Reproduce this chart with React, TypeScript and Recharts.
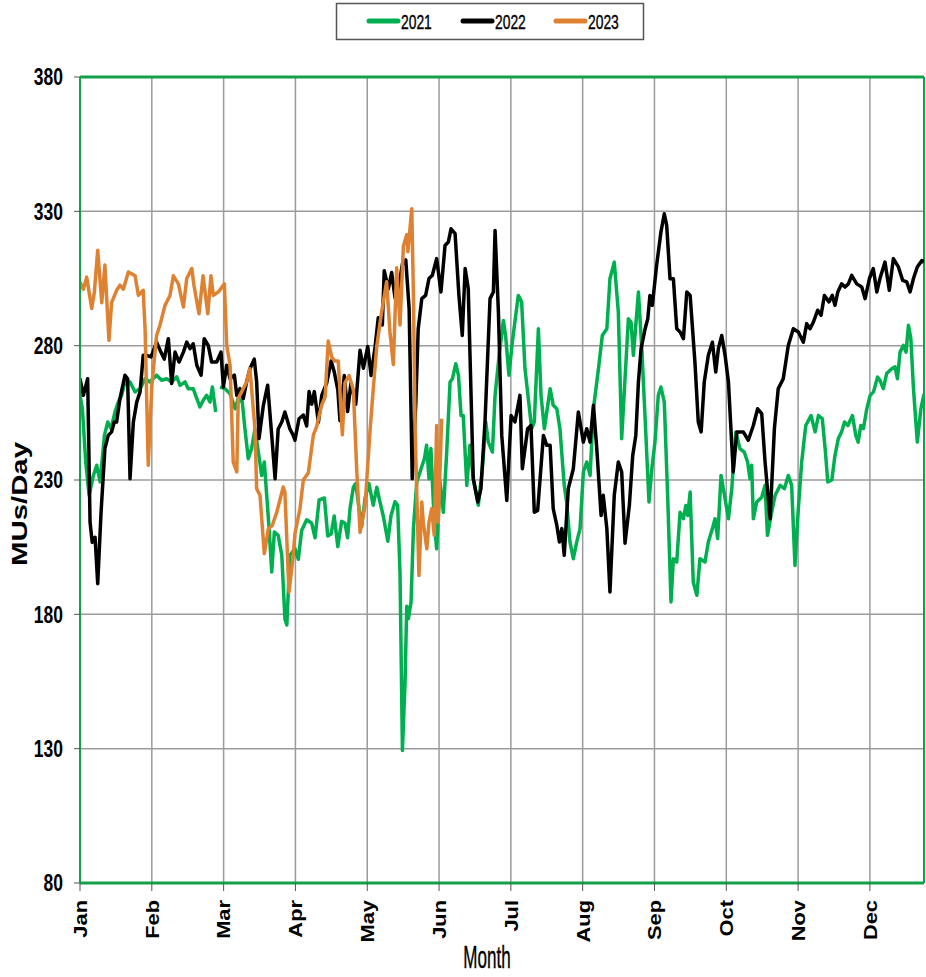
import React from 'react';
import { LineChart, Line, XAxis, YAxis, CartesianGrid, ReferenceLine, Label } from 'recharts';

const MONTHS = ['Jan', 'Feb', 'Mar', 'Apr', 'May', 'Jun', 'Jul', 'Aug', 'Sep', 'Oct', 'Nov', 'Dec'];
const MONTH_TICKS = [0, 30, 60, 90, 120, 150, 180, 210, 240, 270, 300, 330];
const Y_TICKS = [80, 130, 180, 230, 280, 330, 380];
const X_MAX = 352.6;
const SERIES_NAMES = ['2021', '2022', '2023'];
const COLORS = ['#00B050', '#000000', '#DE8232'];
const BORDER_GREEN = '#12A048';

const y2021: [number, number | null][] = [[0,261.5],[1.0,256.5],[2.4,236.7],[3.8,224.3],[5.6,231.7],[7.0,235.5],[8.4,229.3],[10.2,246.6],[11.6,251.6],[13.0,249.1],[14.6,255.3],[16.0,259],[17.4,261.5],[18.8,266.5],[20.9,266.5],[23.0,262.8],[25.1,264],[27.2,267.7],[29.2,266.5],[32.0,269],[34.1,267.1],[36.2,267.7],[38.3,266.5],[40.4,268.4],[41.8,265.2],[43.9,266.5],[45.2,264],[47.3,264],[48.8,260.3],[50.1,257.2],[51.5,259.7],[52.9,261.5],[54.3,259],[55.3,264.6],[56.7,255.3],[57.4,null],[58.5,264.6],[60.6,264],[62.7,262.1],[64.8,256.5],[66.1,260.3],[67.8,259],[68.9,249.1],[70.3,237.9],[71.7,241.7],[73.1,249.1],[74.5,240.4],[75.9,231.7],[77.0,236.7],[78.0,224.3],[79.0,211.9],[80.1,195.8],[81.2,210.6],[82.8,209.4],[84.3,202],[85.6,178.4],[86.4,176],[87.7,202],[89.8,204.5],[91.2,200.5],[92.6,211.2],[94.7,215.2],[96.8,213.9],[98.2,208.5],[99.9,222.6],[102.1,223.3],[103.5,209.2],[104.9,209.9],[106.2,216.6],[107.7,205.2],[109.3,214.6],[110.7,213.9],[111.8,208.5],[112.8,219.3],[114.2,227.3],[115.2,228.7],[116.6,219.3],[117.7,212.6],[119.1,223.3],[120.7,228.7],[122.5,220.6],[124.0,227.3],[125.3,221.9],[126.7,216.6],[128.6,207.2],[129.9,216.6],[131.6,221.9],[132.7,220.6],[133.7,195.1],[134.7,129.3],[135.8,154.8],[136.5,183],[137.2,178.4],[138.3,184.6],[139.3,211.9],[140.7,229.3],[142.5,234.2],[143.9,238],[144.8,242.9],[145.8,230.5],[146.6,241.7],[148.0,214.3],[149.0,204.4],[150.4,229.3],[151.8,218],[153.2,240.4],[154.6,266.5],[155.6,267.7],[157.0,273.3],[158.1,269],[159.2,254],[160.1,254],[161.6,228],[162.9,242.9],[164.3,230.5],[166.4,220.6],[168.1,234.2],[169.5,251.6],[170.6,244.1],[172.3,240.4],[173.4,261.5],[175.1,276.4],[176.9,289.4],[177.8,283.8],[179.2,269],[180.6,281.3],[183.1,298.7],[184.5,296.3],[185.9,271.4],[187.3,260.3],[188.7,249.1],[189.8,251.6],[191.5,286.3],[192.6,261.5],[194.0,249.1],[196.4,264],[197.7,257.8],[199.2,256.5],[200.5,249.1],[202.3,228],[203.3,221.8],[204.7,206.9],[206.1,200.7],[207.5,206.9],[208.9,211.9],[210.3,233],[211.7,236.7],[213.1,231.7],[214.5,256.5],[216.6,271.4],[218.2,283.8],[220.1,286.3],[221.4,304.9],[223.2,311.1],[224.9,292.5],[226.3,245.4],[227.7,267.7],[229.1,290],[230.2,288.8],[231.2,276.4],[233.3,300],[234.7,278.9],[236.1,252.8],[237.7,221.8],[238.9,234.2],[240.2,244.1],[241.6,261.5],[242.7,264.6],[244.1,259],[245.5,224.3],[246.9,184.6],[247.9,200.7],[249.3,199.5],[250.7,218],[252.1,215.6],[253.1,220.5],[253.9,216.8],[254.9,225.5],[256.2,192],[257.7,187.1],[259.0,200.7],[261.1,199.5],[262.5,206.9],[264.2,211.9],[265.3,215.6],[266.4,208.2],[267.8,231.7],[269.5,223],[270.9,215.6],[272.3,226.8],[274.0,247.9],[275.7,241.7],[277.5,240.4],[278.9,236.7],[279.9,230.5],[280.6,235.5],[281.3,215.6],[282.7,221.8],[284.8,223.6],[286.2,228],[287.2,209.4],[288.7,216.8],[290.4,224.3],[292.5,228],[294.3,226.8],[295.9,231.7],[297.3,228],[298.7,198.2],[300.1,219.3],[301.5,236.7],[303.2,250.3],[305.4,254],[307.1,247.9],[308.5,254],[310.1,252.8],[311.3,241.7],[312.4,229.3],[314.1,230],[315.4,239.1],[316.8,245.4],[318.2,248],[319.4,251.6],[320.8,250.3],[322.7,254],[324.1,246.6],[325.1,244.1],[326.2,250.3],[327.3,249.1],[328.7,256.5],[330.1,261.5],[331.5,262.8],[333.2,268.3],[334.2,267.1],[335.6,264],[337.0,269.6],[339.1,271.4],[340.5,272.1],[341.5,267.7],[342.6,277.6],[344.0,280.1],[345.1,277.6],[346.1,287.6],[347.1,282.6],[348.2,264],[349.8,244.1],[351.3,256.5],[352.6,262]];

const y2022: [number, number][] = [[0,267.7],[1.4,261.5],[3.2,267.7],[4.2,214.3],[5.1,206.8],[6.3,208.7],[7.4,191.4],[8.8,218],[10.4,241.7],[11.8,246.6],[13.2,247.9],[14.3,251.6],[15.3,251.6],[16.7,260.3],[18.8,269],[19.9,267.7],[20.9,230.5],[22.3,251.6],[23.7,259],[25.1,262.8],[26.4,276.4],[27.9,276.4],[29.7,275.8],[32.0,281.3],[33.8,277.6],[35.2,275],[36.9,282.6],[38.3,265.9],[39.7,277.6],[41.4,273.9],[43.2,277.6],[44.6,281.3],[46.0,278.9],[47.3,280.7],[48.8,272.7],[50.6,269],[51.9,282.6],[53.6,280],[55.0,273.9],[57.1,273.9],[58.9,277.6],[59.9,264.6],[61.3,272.7],[62.7,267.7],[64.5,269],[65.5,261.5],[66.8,264],[68.2,260.3],[69.6,266.5],[71.0,271.4],[72.8,275],[73.8,266.5],[74.8,245.4],[76.6,257.8],[78.4,265.3],[80.1,246.6],[81.5,230.5],[82.8,249],[84.3,251.6],[85.6,255.3],[87.7,249],[89.1,246.6],[89.8,244.8],[91.5,252.8],[93.3,254.2],[94.7,250.1],[95.7,262.9],[96.8,258.2],[97.9,262.9],[99.6,251.5],[101.0,261.5],[103.1,266.2],[104.9,274.3],[106.2,270.3],[107.7,263.6],[108.6,252.1],[110.4,268.9],[111.8,255.5],[113.2,266.2],[115.2,258.2],[117.0,278.3],[118.4,271.6],[120.2,279.7],[121.6,268.9],[123.3,279.7],[124.6,290.4],[126.3,287.7],[127.1,307.9],[128.8,301.1],[130.2,307.2],[131.6,297.8],[133.0,301],[134.7,310.5],[136.1,311.9],[137.5,293.8],[138.8,230.5],[140.3,259],[141.3,286.3],[142.8,297.5],[144.4,298.7],[145.8,305],[147.2,306.2],[149.0,312.4],[150.8,300],[152.5,317.3],[153.9,318.6],[155.0,323.5],[156.7,321.7],[158.3,298.7],[159.7,283.8],[160.9,308.7],[162.2,301.2],[164.3,230.5],[166.2,221.8],[167.5,226.8],[169.2,251.6],[171.3,297.5],[172.7,300],[173.4,322.9],[174.8,292.5],[176.2,246.6],[178.3,222.4],[180.1,254],[181.7,251.6],[183.8,261.5],[184.8,234.2],[187.0,249.1],[188.4,250.3],[189.8,218],[191.2,218.7],[193.6,246.6],[195.0,242.9],[196.4,242.9],[197.7,219.3],[199.2,213.1],[200.3,206.9],[201.3,211.9],[202.3,202],[204.0,226.8],[206.1,234.2],[208.2,255.3],[210.3,244.1],[211.7,249.1],[213.1,244.1],[214.5,257.8],[215.9,241.7],[217.7,216.8],[218.6,224.3],[220.1,211.9],[221.4,188.3],[223.2,224.3],[224.9,236.7],[226.3,233],[227.7,206.5],[229.5,220.5],[230.9,239],[232.2,246.6],[233.3,266.5],[234.4,278.9],[236.1,286.3],[237.2,290],[238.1,298.7],[239.1,295],[240.9,309.9],[242.7,322.3],[244.1,329.1],[245.1,324.8],[246.5,304.9],[247.9,304.9],[249.3,286.3],[250.7,285.1],[252.1,282.6],[253.5,300],[254.9,298.7],[256.9,273.9],[258.3,251.6],[259.5,247.9],[260.8,266.5],[262.5,276.4],[264.2,281.3],[265.6,270.2],[266.7,278.9],[268.1,283.8],[269.5,276.4],[270.9,266.5],[272.9,233],[274.4,247.9],[275.7,247.9],[277.1,247.9],[279.2,244.8],[281.3,250.3],[283.1,256.5],[284.8,254.7],[286.2,236.7],[288.3,215.6],[290.1,249.1],[291.7,264],[293.8,267.7],[295.9,280.1],[298.0,286.3],[300.1,285.1],[302.2,281.3],[303.6,288.2],[305.0,286.3],[306.4,288.8],[308.2,293.2],[309.6,291.3],[311.0,298.7],[312.9,296.3],[314.3,298.7],[315.4,295],[316.6,300],[318.2,303],[319.6,301.8],[321.0,303],[322.4,306.2],[324.5,303],[326.6,301.8],[328.0,297.5],[329.8,305],[331.4,308.7],[332.9,300],[334.2,305],[336.3,311.1],[338.1,300.6],[339.8,312.4],[341.9,309.3],[343.7,304.3],[345.4,303.7],[346.8,300],[348.2,305],[349.8,309.3],[351.7,311.7],[352.6,311.1]];

const y2023: [number, number][] = [[0,303.7],[1.4,301],[2.8,305.5],[4.9,293.8],[6.0,300],[7.4,315.5],[9.1,296],[10.4,310],[12.1,282],[13.2,296],[15.3,300.6],[16.7,302.5],[18.1,301],[20.2,307.4],[23.0,306],[24.4,298.7],[26.4,300.6],[27.2,286],[28.5,235.5],[30.0,265],[32.0,283.8],[33.4,287.6],[35.5,295],[37.6,298.7],[39.0,306],[41.1,303],[43.2,294.4],[44.6,305],[46.7,308.7],[47.6,302.5],[49.7,291.9],[51.4,306],[53.4,291.9],[54.7,306],[55.7,298.7],[57.8,300],[60.3,303],[61.3,280],[62.7,272.7],[64.0,236.7],[65.5,233],[66.1,260.3],[68.2,264],[69.6,266.5],[71.0,271.4],[73.1,249],[73.8,226.8],[75.2,224.3],[77.0,202.6],[78.7,211.9],[80.3,213],[82.2,218],[84.9,227.4],[85.6,225.5],[87.3,188.3],[89.1,202],[89.8,210],[91.9,219.3],[93.3,230],[95.4,232.7],[97.5,246.8],[98.9,250],[101.0,258],[102.4,260.9],[103.7,281.7],[105.2,275.6],[106.5,274.3],[107.9,274.3],[109.6,246.8],[110.7,266.2],[112.4,268.9],[114.2,263.6],[115.6,234],[117.0,210.5],[119.1,220.6],[121.2,248.8],[122.5,263.6],[124.0,280],[126.1,293],[128.1,303.8],[129.5,285],[130.9,273],[132.3,309],[133.7,287.7],[135.1,317],[136.5,321.3],[137.0,315],[138.6,331],[139.3,298.7],[140.0,249],[141.6,194.5],[142.8,221.8],[143.4,214.3],[144.9,204.4],[145.8,214.3],[146.9,219.3],[148.0,209.4],[149.0,250.3],[149.7,214.3],[151.1,252.8]];

const toRows = (pairs: [number, number | null][]) => pairs.map(([day, v]) => ({ day, v }));
const SERIES = [toRows(y2021), toRows(y2022), toRows(y2023)];

const FONT = "Arial, 'Liberation Sans', sans-serif";

function MonthTick(props: any) {
  const { x, y, payload } = props;
  const label = MONTHS[Math.round(payload.value / 30)];
  return (
    <g transform={`translate(${x},${y}) rotate(-90) scale(1.15,1)`}>
      <text x={0} y={0} dy="0.36em" textAnchor="end"
        fontFamily={FONT} fontWeight="bold" fontSize={19} fill="#000">{label}</text>
    </g>
  );
}

function ValueTick(props: any) {
  const { x, y, payload } = props;
  return (
    <g transform={`translate(${x},${y}) scale(0.76,1)`}>
      <text x={0} y={0} dy="0.36em" textAnchor="end"
        fontFamily={FONT} fontWeight="bold" fontSize={23} fill="#000">{payload.value}</text>
    </g>
  );
}

function Legend() {
  const items = [369, 463, 556];
  return (
    <svg width={926} height={45} style={{ position: 'absolute', left: 0, top: 0 }}>
      <rect x={336.5} y={3.5} width={307} height={36} fill="#fff" stroke="#555" strokeWidth={1.5} />
      {SERIES_NAMES.map((n, i) => (
        <g key={n}>
          <line x1={items[i]} x2={items[i] + 29} y1={21} y2={21} stroke={COLORS[i]} strokeWidth={5} strokeLinecap="round" />
          <g transform={`translate(${items[i] + 32},28.5) scale(0.66,1)`}>
            <text x={0} y={0} fontFamily={FONT} fontSize={21} fill="#000" stroke="#000" strokeWidth={0.4}>{n}</text>
          </g>
        </g>
      ))}
    </svg>
  );
}

export default function App() {
  return (
    <div style={{ position: 'absolute', left: 0, top: 0, width: 926, height: 977, background: '#fff' }}>
      <LineChart width={926} height={977} margin={{ top: 77, right: 2, bottom: 34, left: 0 }}>
        <CartesianGrid stroke="#9b9b9b" strokeWidth={1.5} />
        <XAxis dataKey="day" type="number" domain={[0, X_MAX]} allowDataOverflow ticks={MONTH_TICKS}
          interval={0} height={60} tickSize={8} tickMargin={9} tick={<MonthTick />}
          tickLine={{ stroke: '#555' }} axisLine={{ stroke: BORDER_GREEN, strokeWidth: 3 }}>
          <Label content={(p: any) => {
            const vb = p.viewBox;
            return (
              <g transform={`translate(${vb.x + vb.width / 2 - 15},${vb.y + 85}) scale(0.55,1)`}>
                <text x={0} y={0} textAnchor="middle" fontFamily={FONT} fontSize={31} fill="#000"
                  stroke="#000" strokeWidth={0.4}>Month</text>
              </g>
            );
          }} />
        </XAxis>
        <YAxis type="number" domain={[80, 380]} ticks={Y_TICKS} interval={0} width={80}
          tickSize={6} tickMargin={11} tickLine={{ stroke: '#555' }} tick={<ValueTick />}
          axisLine={{ stroke: BORDER_GREEN, strokeWidth: 2 }}>
          <Label content={(p: any) => {
            const vb = p.viewBox;
            const cy = vb.y + vb.height / 2 + 24;
            return <text transform={`translate(27,${cy}) rotate(-90)`} x={0} y={0} textAnchor="middle"
              textLength={124} lengthAdjust="spacingAndGlyphs"
              fontFamily={FONT} fontWeight="bold" fontSize={22} fill="#000">MUs/Day</text>;
          }} />
        </YAxis>
        <ReferenceLine y={380} stroke={BORDER_GREEN} strokeWidth={3} />
        <ReferenceLine x={X_MAX} stroke={BORDER_GREEN} strokeWidth={2} />
        {SERIES.map((rows, i) => (
          <Line key={SERIES_NAMES[i]} data={rows} dataKey="v" name={SERIES_NAMES[i]} type="linear"
            stroke={COLORS[i]} strokeWidth={3.5} dot={false} activeDot={false}
            isAnimationActive={false} strokeLinejoin="round" />
        ))}
      </LineChart>
      <Legend />
    </div>
  );
}
